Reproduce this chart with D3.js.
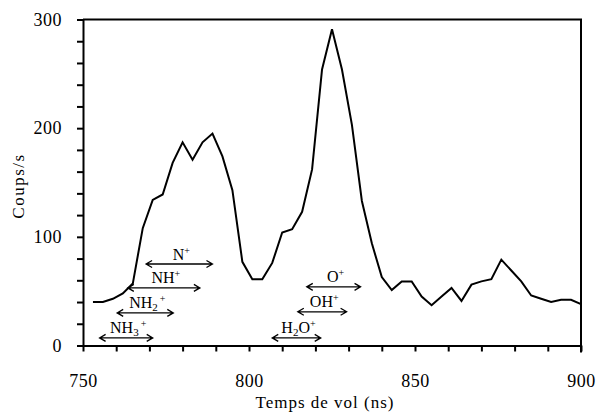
<!DOCTYPE html>
<html>
<head>
<meta charset="utf-8">
<script src="https://cdn.jsdelivr.net/npm/d3@7"></script>
<style>
  body { margin: 0; background: #fff; }
  svg { display: block; }
  text { font-family: "Liberation Serif", "Times New Roman", serif; fill: #000; }
</style>
</head>
<body>
<div id="chart"></div>
<script>
// Time of flight spectrum (ns) vs counts per second

// Sampling times (ns) and counts
const times = [753, 756, 759, 762, 765, 768, 771, 774, 777, 780,
               783, 786, 789, 792, 795, 798, 801, 804, 807, 810,
               813, 816, 819, 822, 825, 828, 831, 834, 837, 840,
               843, 846, 849, 852, 855, 858, 861, 864, 867, 870,
               873, 876, 879, 882, 885, 888, 891, 894, 897, 900];
const counts = [40, 40, 43, 48, 57, 108, 134, 139, 168, 187,
                171, 187, 195, 174, 143, 77, 61, 61, 76, 104,
                107, 123, 162, 254, 291, 254, 203, 133, 94, 63,
                51, 59, 59, 45, 37, 45, 53, 41, 56, 59,
                61, 79, 69, 59, 46, 43, 40, 42, 42, 38];

// Ion ranges drawn as double arrows
const ionNames = ["N", "NH", "NH|2", "NH|3", "O", "OH", "H|2O"];
const ionStart = [769, 763.5, 760.3, 755, 817.4, 814.7, 807];
const ionEnd   = [789, 785.2, 777.2, 771, 833.6, 829.4, 821.6];
const ionLevel = [75, 53, 30, 7, 54, 31, 7];

// Tick values
const xTicks = d3.range(750, 901, 10);
const xLabels = [750, 800, 850, 900];
const yTicks = d3.range(0, 301, 20);
const yLabels = [0, 100, 200, 300];

const width = 596;
const height = 412;
const margin = { top: 19.5, right: 15, bottom: 66.5, left: 83 };

const svg = d3.select("#chart")
    .append("svg")
    .attr("width", width)
    .attr("height", height);

const x = d3.scaleLinear()
    .domain([750, 900])
    .range([margin.left, width - margin.right]);

const y = d3.scaleLinear()
    .domain([0, 300])
    .range([height - margin.bottom, margin.top]);

// Axes
const xAxis = d3.axisBottom(x)
    .tickValues(xTicks)
    .tickSize(6)
    .tickSizeOuter(0)
    .tickPadding(23)
    .tickFormat(d => xLabels.includes(d) ? d : "");

const yAxis = d3.axisLeft(y)
    .tickValues(yTicks)
    .tickSize(6)
    .tickSizeOuter(0)
    .tickPadding(15)
    .tickFormat(d => yLabels.includes(d) ? d : "");

const gx = svg.append("g")
    .attr("transform", `translate(0, ${y(0)})`)
    .call(xAxis);

const gy = svg.append("g")
    .attr("transform", `translate(${x(750)}, 0)`)
    .call(yAxis);

[gx, gy].forEach(g => {
    g.selectAll("path, line").attr("stroke", "#000").attr("stroke-width", 2);
    g.selectAll("text")
        .attr("font-family", "Liberation Serif, serif")
        .attr("font-size", 18)
        .attr("letter-spacing", "0.5px")
        .attr("fill", "#000");
});

// Top and right frame
svg.append("path")
    .attr("d", `M${x(750)},${y(300)}H${x(900)}V${y(0) + 7}`)
    .attr("fill", "none")
    .attr("stroke", "#000")
    .attr("stroke-width", 2);

// Data line
const line = d3.line()
    .x((d, i) => x(times[i]))
    .y(d => y(d));

svg.append("path")
    .datum(counts)
    .attr("d", line)
    .attr("fill", "none")
    .attr("stroke", "#000")
    .attr("stroke-width", 2)
    .attr("stroke-linejoin", "miter");

// Ion range arrows with labels
ionNames.forEach((name, i) => {
    const x0 = x(ionStart[i]);
    const x1 = x(ionEnd[i]);
    const yy = y(ionLevel[i]);
    const g = svg.append("g");

    g.append("path")
        .attr("d", `M${x0},${yy}H${x1}` +
                   `M${x0 + 6},${yy - 3.5}L${x0},${yy}L${x0 + 6},${yy + 3.5}` +
                   `M${x1 - 6},${yy - 3.5}L${x1},${yy}L${x1 - 6},${yy + 3.5}`)
        .attr("fill", "none")
        .attr("stroke", "#000")
        .attr("stroke-width", 1.3);

    const label = g.append("text")
        .attr("x", (x0 + x1) / 2 + 2)
        .attr("y", yy - 4.5)
        .attr("text-anchor", "middle")
        .attr("font-size", 16);

    // "|" marks a subscript digit
    const parts = name.split("|");
    label.append("tspan").text(parts[0]);
    if (parts.length > 1) {
        const digit = parts[1].charAt(0);
        const rest = parts[1].slice(1);
        label.append("tspan").attr("font-size", 11).attr("dy", 3).text(digit);
        if (rest) {
            label.append("tspan").attr("dy", -3).text(rest);
            label.append("tspan").attr("font-size", 10).attr("dy", -6).text("+");
        } else {
            label.append("tspan").attr("font-size", 10).attr("dy", -9).attr("dx", 2).text("+");
        }
    } else {
        label.append("tspan").attr("font-size", 10).attr("dy", -6).text("+");
    }
});

// Axis titles
svg.append("text")
    .attr("x", 325)
    .attr("y", 408)
    .attr("text-anchor", "middle")
    .attr("font-size", 17)
    .attr("letter-spacing", "1px")
    .text("Temps de vol (ns)");

svg.append("text")
    .attr("transform", "translate(24, 186) rotate(-90)")
    .attr("text-anchor", "middle")
    .attr("font-size", 17)
    .attr("letter-spacing", "1.5px")
    .text("Coups/s");
</script>
</body>
</html>
